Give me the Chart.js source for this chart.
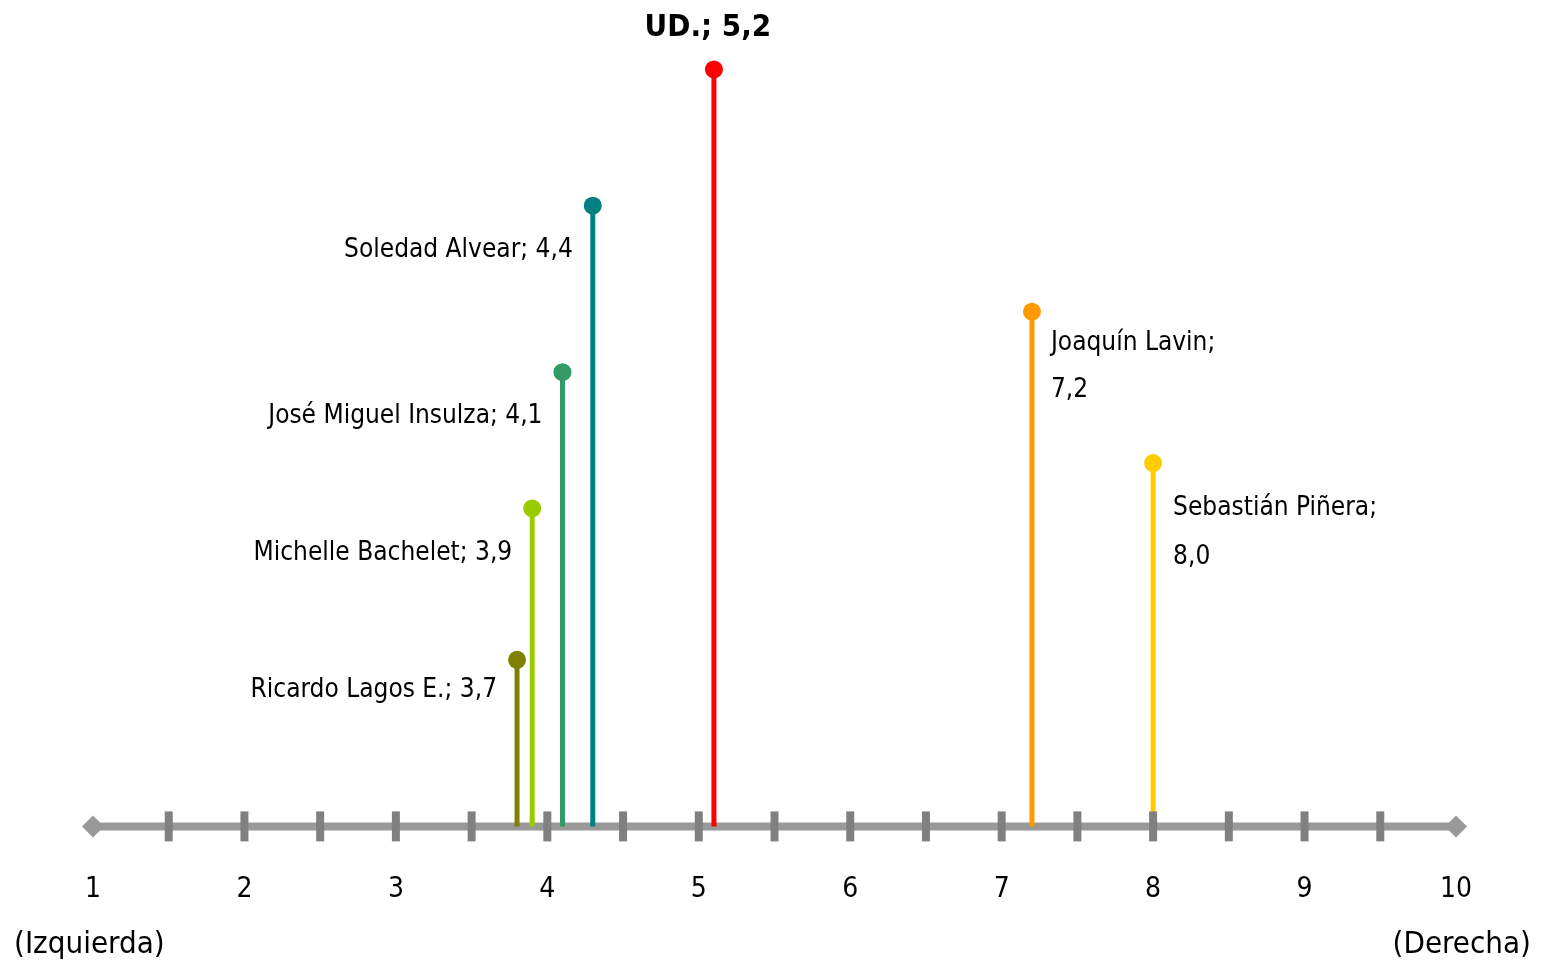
<!DOCTYPE html>
<html>
<head>
<meta charset="utf-8">
<script src="https://cdn.jsdelivr.net/npm/chart.js@4.4.1/dist/chart.umd.min.js"></script>
<style>
  html, body { margin: 0; padding: 0; background: #fff; }
  #wrap { width: 1547px; height: 962px; }
</style>
</head>
<body>
<div id="wrap"><canvas id="scaleChart"></canvas></div>
<script>
// Data
const candidates = ['Ricardo Lagos E.', 'Michelle Bachelet', 'José Miguel Insulza', 'Soledad Alvear', 'UD.', 'Joaquín Lavin', 'Sebastián Piñera'];
const positions = [3.8, 3.9, 4.1, 4.3, 5.1, 7.2, 8.0];
const heights = [1.1, 2.1, 3.0, 4.1, 5.0, 3.4, 2.4];
const scoreLabels = ['3,7', '3,9', '4,1', '4,4', '5,2', '7,2', '8,0'];
const colors = ['#808000', '#99cc00', '#339966', '#008080', '#ff0000', '#ff9900', '#ffcc00'];
const tickValues = [1, 2, 3, 4, 5, 6, 7, 8, 9, 10];
const markValues = [1.5, 2, 2.5, 3, 3.5, 4, 4.5, 5, 5.5, 6, 6.5, 7, 7.5, 8, 8.5, 9, 9.5];
const endLabels = ['(Izquierda)', '(Derecha)'];

const FONT = "'DejaVu Sans Condensed', 'DejaVu Sans', sans-serif";

// where each data label sits relative to its dot
const labelLayout = [
  { side: 'left', dx: -20, dy: 30 },
  { side: 'left', dx: -20, dy: 45 },
  { side: 'left', dx: -20, dy: 44 },
  { side: 'left', dx: -20, dy: 45 },
  { side: 'top', dx: -6, dy: -41 },
  { side: 'right', dx: 19, dy: 32, gap: 47 },
  { side: 'right', dx: 20, dy: 45, gap: 49 }
];

const stems = candidates.map((name, i) => ({
  label: name,
  data: [{ x: positions[i], y: 0 }, { x: positions[i], y: heights[i] }],
  borderColor: colors[i],
  borderWidth: 5,
  borderCapStyle: 'butt',
  pointRadius: [0, 9],
  pointHoverRadius: [0, 9],
  pointBackgroundColor: colors[i],
  pointBorderWidth: 0,
  showLine: true,
  clip: false,
  order: 1
}));

const axisLine = {
  label: 'axis',
  data: [{ x: tickValues[0], y: 0 }, { x: tickValues[tickValues.length - 1], y: 0 }],
  borderColor: '#999999',
  borderWidth: 8,
  pointStyle: 'rectRot',
  pointRadius: 11,
  pointHoverRadius: 11,
  pointBackgroundColor: '#999999',
  pointBorderWidth: 0,
  showLine: true,
  clip: false,
  order: 10
};

const tickMarks = {
  id: 'tickMarks',
  afterDatasetsDraw(chart) {
    const { ctx, scales: { x, y } } = chart;
    const y0 = y.getPixelForValue(0);
    ctx.save();
    ctx.strokeStyle = '#808080';
    ctx.lineWidth = 8;
    markValues.forEach(v => {
      const px = x.getPixelForValue(v);
      ctx.beginPath();
      ctx.moveTo(px, y0 - 15);
      ctx.lineTo(px, y0 + 15);
      ctx.stroke();
    });
    ctx.restore();
  }
};

const pointLabels = {
  id: 'pointLabels',
  afterDraw(chart) {
    const ctx = chart.ctx;
    ctx.save();
    ctx.fillStyle = '#000';
    ctx.textBaseline = 'middle';
    candidates.forEach((name, i) => {
      const pt = chart.getDatasetMeta(i).data[1];
      const lay = labelLayout[i];
      if (lay.side === 'left') {
        ctx.font = '26px ' + FONT;
        ctx.textAlign = 'right';
        ctx.fillText(name + '; ' + scoreLabels[i], pt.x + lay.dx, pt.y + lay.dy);
      } else if (lay.side === 'top') {
        ctx.font = 'bold 31px ' + FONT;
        ctx.textAlign = 'center';
        ctx.fillText(name + '; ' + scoreLabels[i], pt.x + lay.dx, pt.y + lay.dy);
      } else {
        ctx.font = '26px ' + FONT;
        ctx.textAlign = 'left';
        ctx.fillText(name + ';', pt.x + lay.dx, pt.y + lay.dy);
        ctx.fillText(scoreLabels[i], pt.x + lay.dx, pt.y + lay.dy + lay.gap);
      }
    });
    // ends of the scale
    ctx.font = '31px ' + FONT;
    ctx.textAlign = 'left';
    ctx.fillText(endLabels[0], 14, 945);
    ctx.textAlign = 'right';
    ctx.fillText(endLabels[1], 1531, 945);
    ctx.restore();
  }
};

new Chart(document.getElementById('scaleChart'), {
  type: 'scatter',
  data: { datasets: [...stems, axisLine] },
  options: {
    responsive: true,
    maintainAspectRatio: false,
    animation: false,
    events: [],
    layout: { padding: { left: 93, right: 91, top: 24, bottom: 8 } },
    plugins: { legend: { display: false }, tooltip: { enabled: false } },
    scales: {
      x: {
        type: 'linear',
        min: 1,
        max: 10,
        afterBuildTicks: s => { s.ticks = tickValues.map(v => ({ value: v })); },
        grid: { display: false, drawTicks: false },
        border: { display: false },
        ticks: {
          padding: 47,
          color: '#000',
          maxRotation: 0,
          autoSkip: false,
          font: { family: FONT, size: 28 },
          callback: v => String(v)
        }
      },
      y: {
        type: 'linear',
        min: 0,
        max: 5.3,
        display: false
      }
    }
  },
  plugins: [tickMarks, pointLabels]
});
</script>
</body>
</html>
